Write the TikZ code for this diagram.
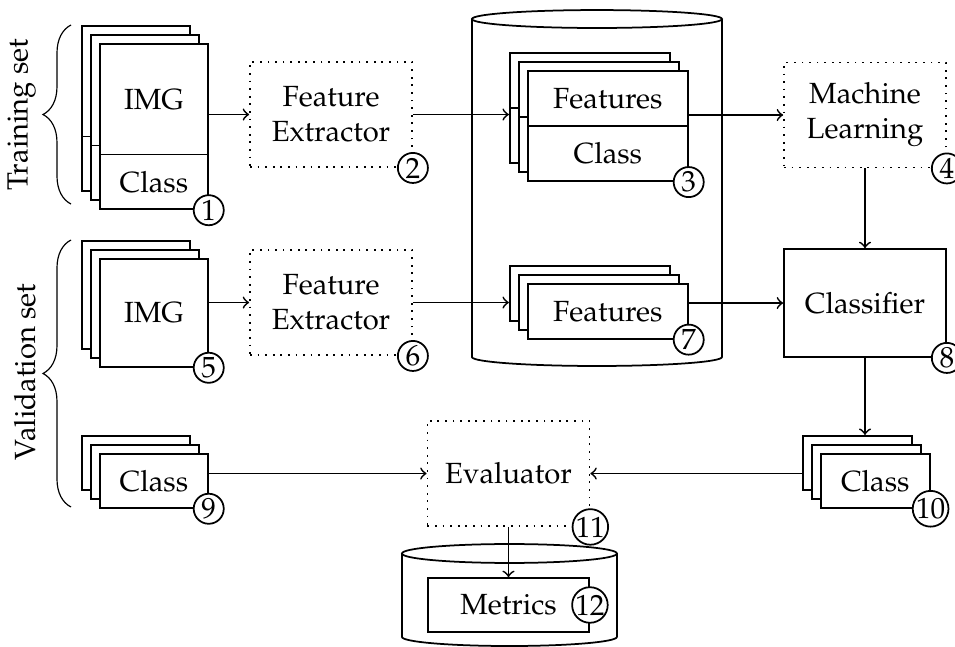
\documentclass[tikz,border=0pt]{standalone}
\usepackage[T1]{fontenc}
\usepackage{mathpazo}
\usetikzlibrary{shapes.multipart,shadows,decorations.pathreplacing}

\newcommand{\parth}[2]{\vbox to #1{\vfil\hbox{#2}\vfil}}

\tikzset{
  sheet/.style={draw, fill=white, semithick, inner sep=3pt},
  stack/.style={sheet,
    copy shadow={shadow xshift=-6.2pt, shadow yshift=6.2pt, semithick},
    copy shadow={shadow xshift=-3.1pt, shadow yshift=3.1pt, semithick}},
  twopart/.style={stack, rectangle split, rectangle split parts=2},
  proc/.style={draw, dotted, semithick, align=center,
    minimum width=55.5pt, minimum height=36pt},
  num/.style={circle, draw, fill=white, semithick, inner sep=0pt, minimum size=10.3pt},
}

\begin{document}
\begin{tikzpicture}
        \useasboundingbox (0,0) rectangle (11.5,7.779);
        %% databases
        \draw[semithick] (5.683,7.550) -- (5.683,3.480)
            arc[start angle=180, end angle=360, x radius=1.5055, y radius=0.108] -- (8.694,7.550);
        \draw[semithick] (7.1885,7.550) ellipse [x radius=1.5055, y radius=0.108];
        \draw[semithick] (4.840,1.114) -- (4.840,0.11)
            arc[start angle=180, end angle=360, x radius=1.2945, y radius=0.11] -- (7.429,1.114);
        \draw[semithick] (6.1345,1.114) ellipse [x radius=1.2945, y radius=0.114];
        %% data sets
        \draw[decorate, decoration={brace, amplitude=9.6pt}] (0.855,5.322) -- (0.855,7.478);
        \draw[decorate, decoration={brace, amplitude=9.6pt}] (0.855,1.674) -- (0.855,4.889);
        \node[rotate=90] (trainlbl) at (0.259,6.400) {Training set};
        \node[rotate=90] (validlbl) at (0.301,3.299) {Validation set};
        %% stacks
        \node[twopart, anchor=north west, minimum width=37pt] (c1) at (1.192,7.260)
            {\parth{31.3pt}{IMG}\nodepart{two}\parth{12.15pt}{Class}};
        \node[stack, anchor=north west, minimum width=37pt, minimum height=37pt] (c5) at (1.192,4.672) {IMG};
        \node[stack, anchor=north west, minimum width=37pt, minimum height=18.5pt] (c9) at (1.192,2.324) {Class};
        \node[twopart, anchor=north west, minimum width=54.8pt] (c3) at (6.346,6.936)
            {\parth{12.3pt}{Features}\nodepart{two}\parth{12.3pt}{Class}};
        \node[stack, anchor=north west, minimum width=54.8pt, minimum height=18.8pt] (c7) at (6.346,4.371) {Features};
        \node[stack, anchor=north west, minimum width=37.3pt, minimum height=18.5pt] (c10) at (9.874,2.324) {Class};
        %% processing
        \node[proc] (fe1) at (3.986,6.400) {Feature\\Extractor};
        \node[proc] (fe2) at (3.986,4.136) {Feature\\Extractor};
        \node[proc] (ml) at (10.416,6.394) {Machine\\Learning};
        \node[sheet, minimum width=55.5pt, minimum height=37pt] (cls) at (10.416,4.130) {Classifier};
        \node[proc] (eval) at (6.123,2.077) {Evaluator};
        \node[sheet, minimum width=55.2pt, minimum height=18.5pt] (met) at (6.123,0.494) {Metrics};
        %% flow
        \draw[semithick,->] (c1.east |- fe1) -- (fe1);
        \draw[semithick,->,shorten >=6.2pt] (fe1) -- (fe1 -| c3.west);
        \draw[semithick,->] (c3.east |- ml) -- (ml);
        \draw[semithick,->] (ml) -- (cls);
        \draw[semithick,->] (c5.east |- fe2) -- (fe2);
        \draw[semithick,->,shorten >=6.2pt] (fe2) -- (fe2 -| c7.west);
        \draw[semithick,->] (c7.east |- cls) -- (cls);
        \draw[semithick,->,shorten >=6.2pt] (cls) -- (cls |- c10.north);
        \draw[semithick,->] (c9.east |- eval) -- (eval);
        \draw[semithick,<-,shorten >=6.2pt] (eval) -- (eval -| c10.west);
        \draw[semithick,->] (eval) -- (met);
        %% step numbers
        \node[num] (n1) at (c1.south east) {1};
        \node[num] (n2) at (fe1.south east) {2};
        \node[num] (n3) at (c3.south east) {3};
        \node[num] (n4) at (ml.south east) {4};
        \node[num] (n5) at (c5.south east) {5};
        \node[num] (n6) at (fe2.south east) {6};
        \node[num] (n7) at (c7.south east) {7};
        \node[num] (n8) at (cls.south east) {8};
        \node[num] (n9) at (c9.south east) {9};
        \node[num] (n10) at (c10.south east) {10};
        \node[num] (n11) at (eval.south east) {11};
        \node[num] (n12) at (met.east) {12};
    \end{tikzpicture}
\end{document}
